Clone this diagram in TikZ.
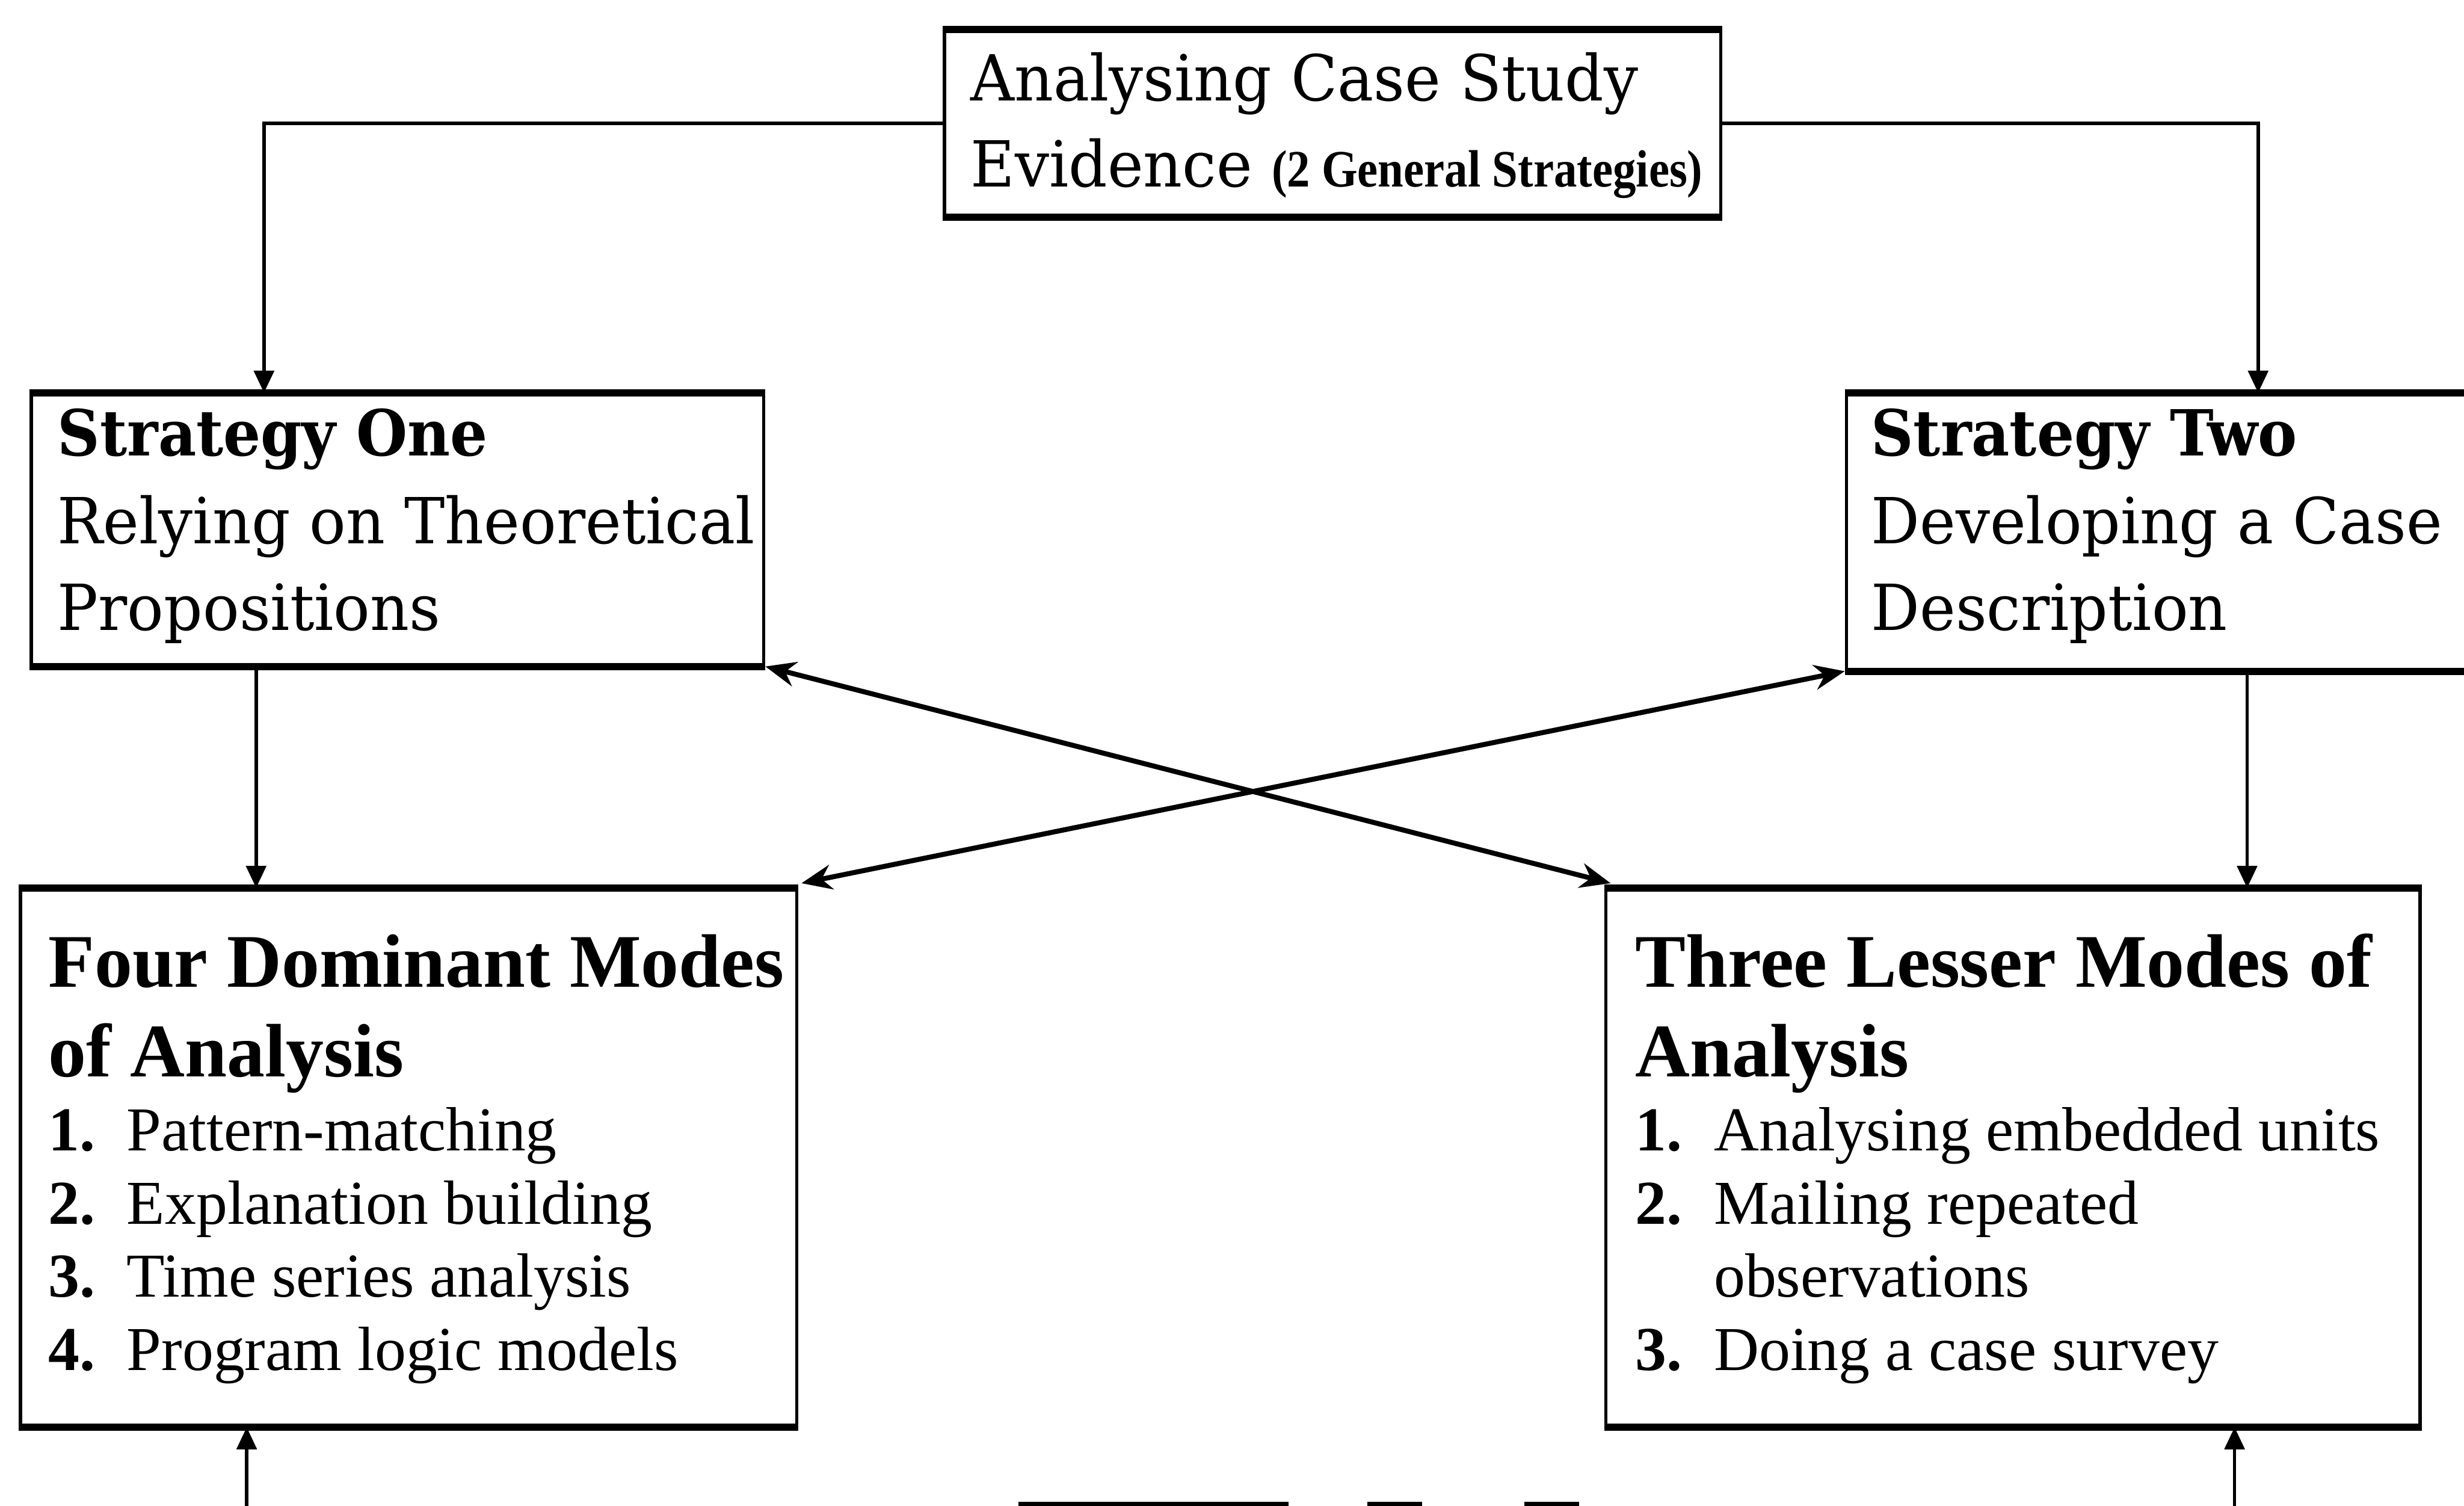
\documentclass[tikz,border=0pt]{standalone}
\usepackage{fontspec}
\setmainfont{Liberation Serif}
\newfontfamily\schfont[FakeStretch=0.955]{DejaVu Serif}
\newfontfamily\schbfont[FakeStretch=0.925]{DejaVu Serif}
\newfontfamily\notefont[FakeStretch=0.88]{Liberation Serif}
\usetikzlibrary{arrows.meta,fit,calc}

\tikzset{
  box/.style={draw, line width=0.6pt, inner sep=0pt},
  hedge/.style={line width=1.3pt},
  link/.style={line width=0.6pt, -{Triangle[length=4pt,width=3.6pt]}},
  crosslink/.style={line width=0.9pt,
    {Stealth[length=5.5pt,width=4.5pt,inset=1.8pt]}-{Stealth[length=5.5pt,width=4.5pt,inset=1.8pt]}},
  txt/.style={anchor=base west, inner sep=0pt},
  upper/.style={txt, font=\schfont\fontsize{11.5}{13}\selectfont},
  upperhead/.style={txt, font=\schbfont\bfseries\fontsize{11.5}{13}\selectfont},
  lowerhead/.style={txt, font=\bfseries\fontsize{13.7}{15}\selectfont},
  item/.style={txt, font=\fontsize{11.3}{13}\selectfont},
  itemnum/.style={txt, font=\bfseries\fontsize{11.3}{13}\selectfont},
}

\begin{document}
\begin{tikzpicture}[x=0.01cm, y=-0.01cm]
  \useasboundingbox (0,0) rectangle (1568,958);
  \clip (0,0) rectangle (1568,958);

  % boxes
  \node[box, fit={(601,20) (1095,137)}] (top) {};
  \node[box, fit={(20,251) (486,423)}] (s1) {};
  \node[box, fit={(1175,251) (1620,426)}] (s2) {};
  \node[box, fit={(13,566) (507,907)}] (m1) {};
  \node[box, fit={(1022,566) (1540,907)}] (m2) {};

  % heavier horizontal edges
  \foreach \b in {top,s1,s2,m1,m2}{
    \draw[hedge] (\b.north west) -- (\b.north east);
    \draw[hedge] (\b.south west) -- (\b.south east);
  }

  % texts of the top box
  \node[upper] (t1) at (617,64) {Analysing Case Study};
  \node[upper] (t2) at (617,119) {Evidence \notefont\bfseries\fontsize{9.5}{11}\selectfont(2 General Strategies)};

  % strategy one
  \node[upperhead] (a1) at (36,290) {Strategy One};
  \node[upper] (a2) at (36,346) {Relying on Theoretical};
  \node[upper] (a3) at (36,401) {Propositions};

  % strategy two
  \node[upperhead] (b1) at (1190,290) {Strategy Two};
  \node[upper] (b2) at (1190,346) {Developing a Case};
  \node[upper] (b3) at (1190,401) {Description};

  % four dominant modes
  \node[lowerhead] (c1) at (30,628) {Four Dominant Modes};
  \node[lowerhead] (c2) at (30,685) {of Analysis};
  \node[itemnum] (cn1) at (30,732) {1.};
  \node[item] (ci1) at (80,732) {Pattern-matching};
  \node[itemnum] (cn2) at (30,779) {2.};
  \node[item] (ci2) at (80,779) {Explanation building};
  \node[itemnum] (cn3) at (30,825) {3.};
  \node[item] (ci3) at (80,825) {Time series analysis};
  \node[itemnum] (cn4) at (30,872) {4.};
  \node[item] (ci4) at (80,872) {Program logic models};

  % three lesser modes
  \node[lowerhead] (d1) at (1040,628) {Three Lesser Modes of};
  \node[lowerhead] (d2) at (1040,685) {Analysis};
  \node[itemnum] (dn1) at (1040,732) {1.};
  \node[item] (di1) at (1090,732) {Analysing embedded units};
  \node[itemnum] (dn2) at (1040,779) {2.};
  \node[item] (di2) at (1090,779) {Mailing repeated};
  \node[item] (di2b) at (1090,825) {observations};
  \node[itemnum] (dn3) at (1040,872) {3.};
  \node[item] (di3) at (1090,872) {Doing a case survey};

  % guide coordinates for the connectors
  \coordinate (xl) at (168,0);
  \coordinate (xr) at (1437,0);
  \coordinate (x1) at (163,0);
  \coordinate (x2) at (1430,0);
  \coordinate (lowL) at (157,980);
  \coordinate (lowR) at (1422,980);

  % connectors
  \draw[link] (top.west) -| (xl |- s1.north);
  \draw[link] (top.east) -| (xr |- s2.north);
  \draw[link] (x1 |- s1.south) -- (x1 |- m1.north);
  \draw[link] (x2 |- s2.south) -- (x2 |- m2.north);
  \draw[crosslink] (s1.south east) -- ($(m2.north west)+(4,-3)$);
  \draw[crosslink] (s2.south west) -- ($(m1.north east)+(2,-3)$);
  \draw[link] (lowL) -- (lowL |- m1.south);
  \draw[link] (lowR) -- (lowR |- m2.south);

  % edge of the next element below
  \fill (648,955.5) rectangle (820,960);
  \fill (870,955.5) rectangle (905,960);
  \fill (970,955.5) rectangle (1005,960);
\end{tikzpicture}
\end{document}
